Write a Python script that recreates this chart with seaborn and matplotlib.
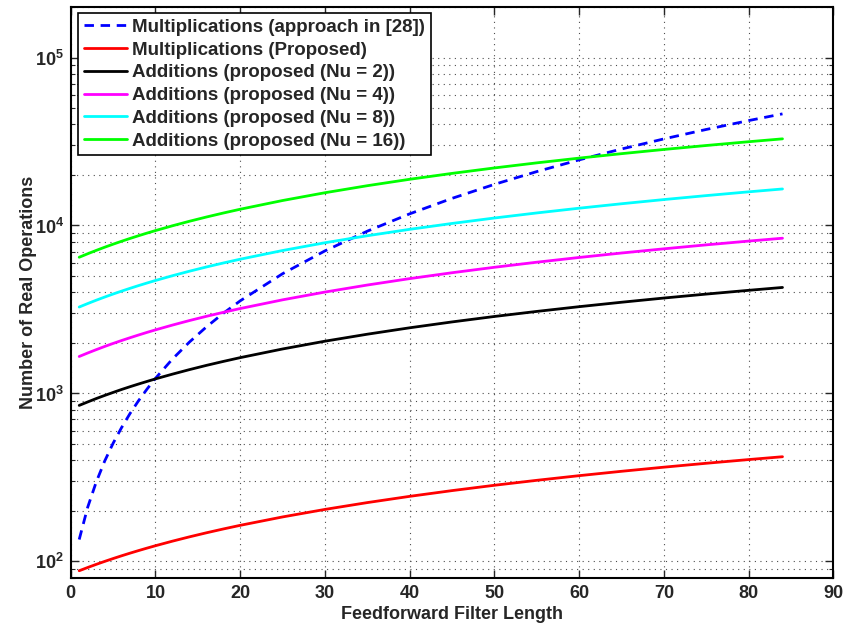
import matplotlib
matplotlib.use("Agg")
import matplotlib.pyplot as plt
import seaborn as sns
import pandas as pd
from matplotlib.ticker import FixedLocator, FixedFormatter, LogLocator, NullFormatter

# ---- data ----
filter_length = [1, 2, 3, 4, 5, 6, 7, 8, 9, 10, 12, 14, 16, 18, 20, 25, 30, 35, 40, 45,
                 50, 55, 60, 65, 70, 75, 80, 84]
mult_approach28 = [135, 210, 296, 395, 505, 626, 760, 905, 1061, 1230, 1602, 2021, 2487,
                   3000, 3559, 5163, 7060, 9250, 11732, 14506, 17575, 20935, 24589,
                   28535, 32774, 37306, 42130, 46200]
mult_proposed = [88, 92, 96, 100, 104, 108, 112, 116, 120, 124, 132, 140, 148, 156, 164,
                 184, 204, 224, 244, 264, 284, 304, 324, 344, 364, 384, 404, 420]
add_nu2 = [849, 890, 932, 973, 1014, 1056, 1097, 1138, 1179, 1221, 1303, 1386, 1469,
           1551, 1634, 1840, 2047, 2253, 2460, 2666, 2873, 3079, 3286, 3492, 3699, 3905,
           4112, 4277]
add_nu4 = [1660, 1741, 1822, 1904, 1985, 2066, 2147, 2228, 2310, 2391, 2553, 2716, 2878,
           3040, 3203, 3609, 4015, 4421, 4827, 5233, 5639, 6045, 6451, 6857, 7263, 7669,
           8075, 8400]
add_nu8 = [3270, 3429, 3589, 3748, 3908, 4067, 4226, 4386, 4545, 4705, 5023, 5342, 5661,
           5980, 6299, 7096, 7893, 8690, 9487, 10284, 11081, 11878, 12675, 13472, 14269,
           15066, 15863, 16500]
add_nu16 = [6470, 6787, 7104, 7422, 7739, 8056, 8373, 8690, 9008, 9325, 9959, 10594,
            11228, 11862, 12497, 14083, 15669, 17255, 18841, 20427, 22013, 23599, 25185,
            26771, 28357, 29943, 31529, 32800]

series_labels = ["Multiplications (approach in [28])",
                 "Multiplications (Proposed)",
                 "Additions (proposed (Nu = 2))",
                 "Additions (proposed (Nu = 4))",
                 "Additions (proposed (Nu = 8))",
                 "Additions (proposed (Nu = 16))"]
series_values = [mult_approach28, mult_proposed, add_nu2, add_nu4, add_nu8, add_nu16]
series_colors = ["#0000ff", "#ff0000", "#000000", "#ff00ff", "#00ffff", "#00ff00"]

x_ticks = [0, 10, 20, 30, 40, 50, 60, 70, 80, 90]
y_ticks = [1e2, 1e3, 1e4, 1e5]
y_tick_labels = [r"$\mathbf{10^{2}}$", r"$\mathbf{10^{3}}$", r"$\mathbf{10^{4}}$", r"$\mathbf{10^{5}}$"]

# ---- style ----
sns.set_style("ticks")
plt.rcParams["font.family"] = ["Liberation Sans", "DejaVu Sans"]
plt.rcParams["font.weight"] = "bold"
plt.rcParams["mathtext.fontset"] = "custom"
plt.rcParams["mathtext.rm"] = "Liberation Sans:bold"
plt.rcParams["mathtext.bf"] = "Liberation Sans:bold"

fig = plt.figure(figsize=(8.45, 6.28), dpi=100)
ax = fig.add_axes([0.0837, 0.0801, 0.9025, 0.9088])

for lab, vals, col in zip(series_labels, series_values, series_colors):
    df = pd.DataFrame({"N": filter_length, "ops": vals})
    extra = {"linestyle": (0, (3.4, 2.4))} if "approach" in lab else {}
    sns.lineplot(data=df, x="N", y="ops", color=col, lw=2, label=lab, ax=ax, **extra)

ax.set_yscale("log")
ax.set_xlim(0, 90)
ax.set_ylim(80, 2e5)

ax.xaxis.set_major_locator(FixedLocator(x_ticks))
ax.set_xticklabels([str(t) for t in x_ticks])
ax.yaxis.set_major_locator(FixedLocator(y_ticks))
ax.yaxis.set_major_formatter(FixedFormatter(y_tick_labels))
ax.yaxis.set_minor_locator(LogLocator(base=10, subs=range(2, 10), numticks=20))
ax.yaxis.set_minor_formatter(NullFormatter())

ax.tick_params(axis="both", which="both", direction="in", top=True, right=True)
ax.tick_params(axis="both", which="major", length=6, width=1, labelsize=13, pad=5)
ax.tick_params(axis="y", which="minor", length=3, width=0.8)
for lbl in ax.get_xticklabels() + ax.get_yticklabels():
    lbl.set_fontweight("bold")

grid_kw = dict(color="0.3", linestyle=(0, (1, 4)), linewidth=0.8)
ax.grid(True, which="major", axis="x", **grid_kw)
ax.grid(True, which="both", axis="y", **grid_kw)

for sp in ax.spines.values():
    sp.set_linewidth(1.5)
    sp.set_color("black")

ax.set_xlabel("Feedforward Filter Length", fontsize=13, fontweight="bold", labelpad=3)
ax.set_ylabel("Number of Real Operations", fontsize=13, fontweight="bold", labelpad=-2)

leg = ax.legend(loc="upper left", bbox_to_anchor=(0.0095, 0.989), fontsize=13.5,
                frameon=True, fancybox=False, framealpha=1, edgecolor="black",
                handlelength=2.3, borderpad=0.3, labelspacing=0.3, handletextpad=0.3,
                borderaxespad=0)
leg.get_frame().set_linewidth(1.2)
for t in leg.get_texts():
    t.set_fontweight("bold")

fig.savefig("out.png", dpi=100)
